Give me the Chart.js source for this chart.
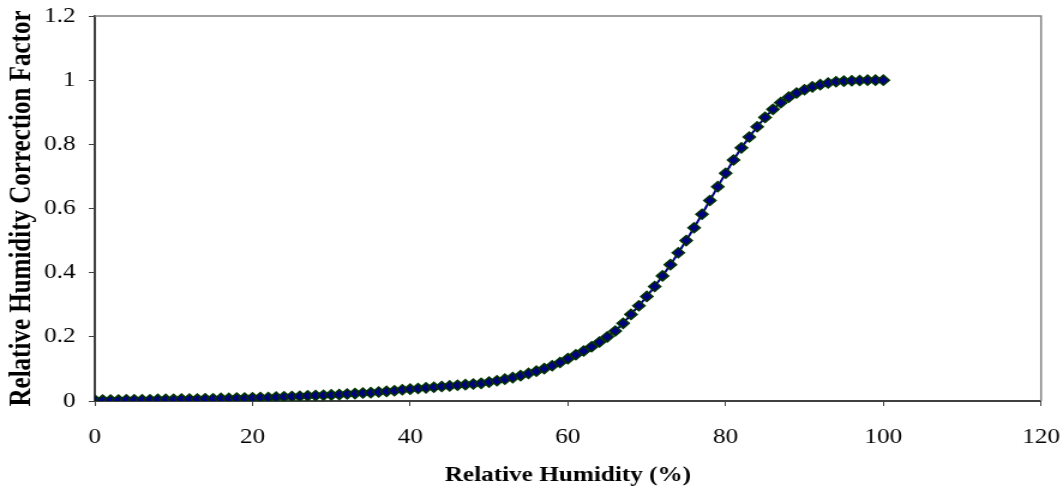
<!DOCTYPE html>
<html>
<head>
<meta charset="utf-8">
<script src="https://cdn.jsdelivr.net/npm/chart.js@4.4.1/dist/chart.umd.min.js"></script>
<style>
  html, body { margin: 0; padding: 0; background: #fff; }
  #chart { display: block; width: 1063px; height: 492px; }
</style>
</head>
<body>
<canvas id="chart" width="886" height="492" style="width:1063px;height:492px"></canvas>
<script>
const humidity = [
  0, 1, 2, 3, 4, 5, 6, 7, 8, 9,
  10, 11, 12, 13, 14, 15, 16, 17, 18, 19,
  20, 21, 22, 23, 24, 25, 26, 27, 28, 29,
  30, 31, 32, 33, 34, 35, 36, 37, 38, 39,
  40, 41, 42, 43, 44, 45, 46, 47, 48, 49,
  50, 51, 52, 53, 54, 55, 56, 57, 58, 59,
  60, 61, 62, 63, 64, 65, 66, 67, 68, 69,
  70, 71, 72, 73, 74, 75, 76, 77, 78, 79,
  80, 81, 82, 83, 84, 85, 86, 87, 88, 89,
  90, 91, 92, 93, 94, 95, 96, 97, 98, 99,
  100
];

const correction = [
  0.003, 0.003, 0.003, 0.003, 0.004, 0.004, 0.004, 0.004, 0.005, 0.005,
  0.005, 0.006, 0.006, 0.006, 0.007, 0.007, 0.008, 0.008, 0.009, 0.009,
  0.010, 0.011, 0.011, 0.012, 0.013, 0.014, 0.015, 0.016, 0.017, 0.018,
  0.019, 0.020, 0.022, 0.023, 0.025, 0.026, 0.028, 0.030, 0.032, 0.035,
  0.037, 0.039, 0.041, 0.043, 0.045, 0.047, 0.049, 0.051, 0.053, 0.055,
  0.059, 0.063, 0.068, 0.073, 0.079, 0.086, 0.093, 0.101, 0.110, 0.120,
  0.132, 0.144, 0.156, 0.169, 0.184, 0.200, 0.218, 0.242, 0.270, 0.297,
  0.326, 0.357, 0.390, 0.425, 0.462, 0.500, 0.540, 0.582, 0.625, 0.668,
  0.710, 0.751, 0.789, 0.823, 0.855, 0.884, 0.909, 0.930, 0.947, 0.960,
  0.970, 0.979, 0.986, 0.991, 0.995, 0.997, 0.998, 0.999, 1.000, 1.000,
  1.000
];

const xTitle = "Relative Humidity (%)";
const yTitle = "Relative Humidity Correction Factor";

const serif = "'Liberation Serif', 'Times New Roman', serif";

// grey frame on the top and right of the plot area
const frameLines = {
  id: "frameLines",
  afterDraw(chart) {
    const { ctx, chartArea: a } = chart;
    ctx.save();
    ctx.strokeStyle = "#808080";
    ctx.lineWidth = 1.5;
    ctx.beginPath();
    ctx.moveTo(a.left, a.top);
    ctx.lineTo(a.right, a.top);
    ctx.lineTo(a.right, a.bottom);
    ctx.stroke();
    ctx.restore();
  }
};

const points = humidity.map((x, i) => ({ x, y: correction[i] }));

new Chart(document.getElementById("chart"), {
  type: "scatter",
  data: {
    datasets: [
      {
        data: points,
        showLine: true,
        borderColor: "#000080",
        borderWidth: 2,
        pointStyle: "rectRot",
        pointRadius: 5,
        pointBackgroundColor: "#000080",
        pointBorderColor: "#003300",
        pointBorderWidth: 1.5
      }
    ]
  },
  options: {
    responsive: false,
    animation: false,
    devicePixelRatio: 1,
    layout: { padding: { top: 16, right: 18.3, left: 0, bottom: 0 } },
    plugins: {
      legend: { display: false },
      tooltip: { enabled: false }
    },
    scales: {
      x: {
        type: "linear",
        min: 0,
        max: 120,
        afterFit: s => {
          s.height = 91;
          s.paddingLeft = 0;
          s.paddingRight = 0;
        },
        border: { display: true, color: "#404040", width: 2 },
        grid: { drawOnChartArea: false, drawTicks: true, tickLength: 5, color: "#404040" },
        ticks: {
          stepSize: 20,
          padding: 19,
          color: "#000",
          font: { family: serif, size: 21 }
        },
        title: {
          display: true,
          text: xTitle,
          color: "#000",
          font: { family: serif, size: 21, weight: "bold" },
          padding: { top: 0, bottom: 4 }
        }
      },
      y: {
        min: 0,
        max: 1.2,
        afterFit: s => {
          s.width = 79;
          s.paddingTop = 0;
          s.paddingBottom = 0;
        },
        border: { display: true, color: "#404040", width: 2 },
        grid: { drawOnChartArea: false, drawTicks: true, tickLength: 5, color: "#404040" },
        ticks: {
          stepSize: 0.2,
          padding: 11,
          color: "#000",
          font: { family: serif, size: 21 },
          callback: v => String(Math.round(v * 10) / 10)
        },
        title: {
          display: true,
          text: yTitle,
          color: "#000",
          font: { family: serif, size: 25, weight: "bold" },
          padding: { top: 4, bottom: 0 }
        }
      }
    }
  },
  plugins: [frameLines]
});
</script>
</body>
</html>
